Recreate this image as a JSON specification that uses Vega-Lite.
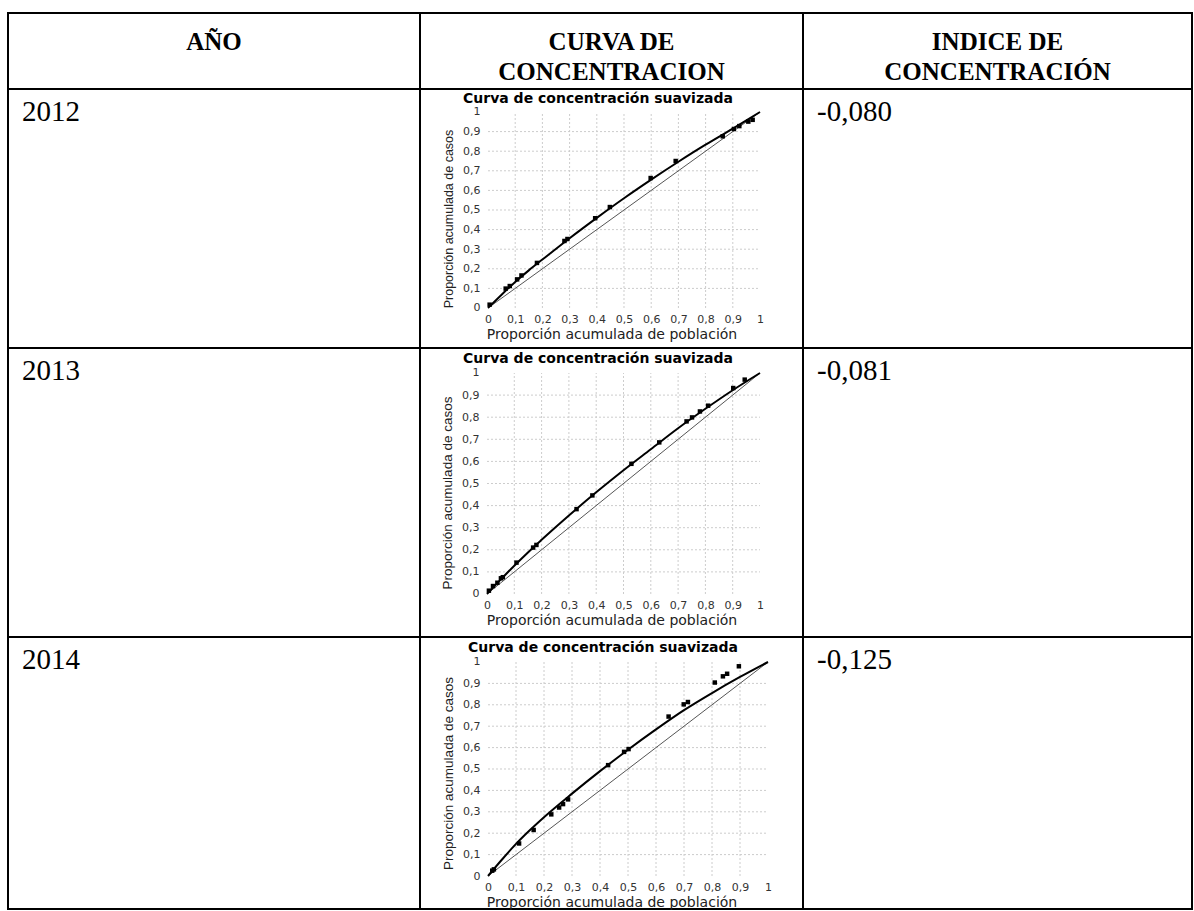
{
  "$schema": "https://vega.github.io/schema/vega-lite/v6.json",
  "background": "white",
  "padding": {"left": 7, "top": 12, "right": 0, "bottom": 0},
  "config": {
    "view": {"stroke": "black", "strokeWidth": 2},
    "axis": {"grid": false, "domain": false, "ticks": false, "labelFont": "DejaVu Sans", "labelFontSize": 11, "labelColor": "#333333", "titleFont": "DejaVu Sans", "titleFontSize": 14, "titleFontWeight": "normal", "titleColor": "#222222", "labelFlush": false, "labelOverlap": false}
  },
  "datasets": {
    "tabla": [
      {"anio": "2012", "indice": "-0,080"},
      {"anio": "2013", "indice": "-0,081"},
      {"anio": "2014", "indice": "-0,125"}
    ],
    "grid": [
      {"x": 0.1, "y": 0.1}, {"x": 0.2, "y": 0.2}, {"x": 0.3, "y": 0.3}, {"x": 0.4, "y": 0.4}, {"x": 0.5, "y": 0.5},
      {"x": 0.6, "y": 0.6}, {"x": 0.7, "y": 0.7}, {"x": 0.8, "y": 0.8}, {"x": 0.9, "y": 0.9}
    ],
    "diag": [{"x": 0, "y": 0}, {"x": 1, "y": 1}],
    "p2012": [
      {"x": 0.006, "y": 0.017}, {"x": 0.065, "y": 0.099}, {"x": 0.08, "y": 0.112}, {"x": 0.107, "y": 0.146},
      {"x": 0.123, "y": 0.166}, {"x": 0.18, "y": 0.23}, {"x": 0.281, "y": 0.342}, {"x": 0.292, "y": 0.352},
      {"x": 0.394, "y": 0.458}, {"x": 0.448, "y": 0.515}, {"x": 0.598, "y": 0.663}, {"x": 0.69, "y": 0.75},
      {"x": 0.863, "y": 0.876}, {"x": 0.904, "y": 0.913}, {"x": 0.924, "y": 0.928}, {"x": 0.957, "y": 0.951},
      {"x": 0.973, "y": 0.96}
    ],
    "c2012": [
      {"x": 0, "y": 0}, {"x": 0.05, "y": 0.068}, {"x": 0.1, "y": 0.133}, {"x": 0.15, "y": 0.192},
      {"x": 0.2, "y": 0.247}, {"x": 0.3, "y": 0.356}, {"x": 0.4, "y": 0.46}, {"x": 0.5, "y": 0.56},
      {"x": 0.6, "y": 0.655}, {"x": 0.7, "y": 0.746}, {"x": 0.8, "y": 0.833}, {"x": 0.9, "y": 0.915},
      {"x": 0.95, "y": 0.957}, {"x": 1, "y": 1}
    ],
    "p2013": [
      {"x": 0.007, "y": 0.015}, {"x": 0.022, "y": 0.036}, {"x": 0.038, "y": 0.051}, {"x": 0.051, "y": 0.071},
      {"x": 0.058, "y": 0.076}, {"x": 0.108, "y": 0.142}, {"x": 0.169, "y": 0.21}, {"x": 0.181, "y": 0.222},
      {"x": 0.328, "y": 0.384}, {"x": 0.386, "y": 0.446}, {"x": 0.529, "y": 0.589}, {"x": 0.631, "y": 0.686},
      {"x": 0.731, "y": 0.781}, {"x": 0.751, "y": 0.799}, {"x": 0.78, "y": 0.826}, {"x": 0.81, "y": 0.852},
      {"x": 0.902, "y": 0.932}, {"x": 0.944, "y": 0.97}
    ],
    "c2013": [
      {"x": 0, "y": 0}, {"x": 0.05, "y": 0.065}, {"x": 0.1, "y": 0.128}, {"x": 0.15, "y": 0.188},
      {"x": 0.2, "y": 0.245}, {"x": 0.3, "y": 0.355}, {"x": 0.4, "y": 0.46}, {"x": 0.5, "y": 0.56},
      {"x": 0.6, "y": 0.655}, {"x": 0.7, "y": 0.75}, {"x": 0.8, "y": 0.838}, {"x": 0.9, "y": 0.922},
      {"x": 1, "y": 1}
    ],
    "p2014": [
      {"x": 0.015, "y": 0.025}, {"x": 0.021, "y": 0.031}, {"x": 0.111, "y": 0.152}, {"x": 0.163, "y": 0.215},
      {"x": 0.226, "y": 0.288}, {"x": 0.254, "y": 0.32}, {"x": 0.268, "y": 0.336}, {"x": 0.286, "y": 0.358},
      {"x": 0.429, "y": 0.518}, {"x": 0.486, "y": 0.58}, {"x": 0.502, "y": 0.593}, {"x": 0.645, "y": 0.745},
      {"x": 0.699, "y": 0.802}, {"x": 0.714, "y": 0.813}, {"x": 0.81, "y": 0.904}, {"x": 0.839, "y": 0.933},
      {"x": 0.854, "y": 0.945}, {"x": 0.896, "y": 0.98}
    ],
    "c2014": [
      {"x": 0, "y": 0}, {"x": 0.05, "y": 0.077}, {"x": 0.1, "y": 0.15}, {"x": 0.15, "y": 0.215},
      {"x": 0.2, "y": 0.275}, {"x": 0.3, "y": 0.385}, {"x": 0.4, "y": 0.49}, {"x": 0.5, "y": 0.59},
      {"x": 0.6, "y": 0.685}, {"x": 0.7, "y": 0.775}, {"x": 0.8, "y": 0.855}, {"x": 0.9, "y": 0.93},
      {"x": 1, "y": 1}
    ]
  },
  "columns": 3,
  "spacing": 0,
  "bounds": "flush",
  "align": "each",
  "concat": [
    {
      "width": 412, "height": 76,
      "data": {"values": [{"h": "AÑO"}]},
      "mark": {"type": "text", "font": "Liberation Serif", "fontSize": 25, "fontWeight": "bold", "align": "center", "baseline": "middle", "dy": 29, "color": "black"},
      "encoding": {
        "text": {"field": "h"},
        "x": {"datum": 0.5, "type": "quantitative", "scale": {"domain": [0, 1]}, "axis": null},
        "y": {"datum": 1, "type": "quantitative", "scale": {"domain": [0, 1]}, "axis": null}
      }
    },
    {
      "width": 383, "height": 76,
      "data": {"values": [{"h": "CURVA DE\nCONCENTRACION"}]},
      "mark": {"type": "text", "font": "Liberation Serif", "fontSize": 25, "fontWeight": "bold", "align": "center", "baseline": "middle", "lineBreak": "\n", "lineHeight": 30, "dy": 29, "color": "black"},
      "encoding": {
        "text": {"field": "h"},
        "x": {"datum": 0.5, "type": "quantitative", "scale": {"domain": [0, 1]}, "axis": null},
        "y": {"datum": 1, "type": "quantitative", "scale": {"domain": [0, 1]}, "axis": null}
      }
    },
    {
      "width": 389, "height": 76,
      "data": {"values": [{"h": "INDICE DE\nCONCENTRACIÓN"}]},
      "mark": {"type": "text", "font": "Liberation Serif", "fontSize": 25, "fontWeight": "bold", "align": "center", "baseline": "middle", "lineBreak": "\n", "lineHeight": 30, "dy": 29, "color": "black"},
      "encoding": {
        "text": {"field": "h"},
        "x": {"datum": 0.5, "type": "quantitative", "scale": {"domain": [0, 1]}, "axis": null},
        "y": {"datum": 1, "type": "quantitative", "scale": {"domain": [0, 1]}, "axis": null}
      }
    },
    {
      "width": 412, "height": 259,
      "data": {"name": "tabla"},
      "transform": [{"filter": "datum.anio == '2012'"}],
      "mark": {"type": "text", "font": "Liberation Serif", "fontSize": 29, "align": "left", "baseline": "middle", "dx": 14, "dy": 23, "color": "black"},
      "encoding": {
        "text": {"field": "anio"},
        "x": {"datum": 0, "type": "quantitative", "scale": {"domain": [0, 1]}, "axis": null},
        "y": {"datum": 1, "type": "quantitative", "scale": {"domain": [0, 1]}, "axis": null}
      }
    },
    {
      "width": 383, "height": 259,
      "title": {"text": "Curva de concentración suavizada", "font": "DejaVu Sans", "fontSize": 14, "fontWeight": "bold", "color": "black", "anchor": "middle", "frame": "group", "baseline": "middle", "offset": -24, "dx": -13.5},
      "encoding": {
        "x": {"field": "x", "type": "quantitative", "scale": {"domain": [-0.25, 1.1581], "nice": false, "zero": false},
              "axis": {"values": [0, 0.1, 0.2, 0.3, 0.4, 0.5, 0.6, 0.7, 0.8, 0.9, 1], "labelExpr": "replace(format(datum.value, '.1~f'), '.', ',')", "title": "Proporción acumulada de población", "offset": -40, "labelPadding": 5, "titlePadding": 3}},
        "y": {"field": "y", "type": "quantitative", "scale": {"domain": [-0.2041, 1.1173], "nice": false, "zero": false},
              "axis": {"values": [0, 0.1, 0.2, 0.3, 0.4, 0.5, 0.6, 0.7, 0.8, 0.9, 1], "labelExpr": "replace(format(datum.value, '.1~f'), '.', ',')", "title": "Proporción acumulada de casos", "titleFont": "Liberation Sans", "titleFontSize": 12.5, "offset": -68, "labelPadding": 8, "titlePadding": 7}}
      },
      "layer": [
        {"data": {"name": "grid"}, "mark": {"type": "rule", "color": "#cccccc", "strokeDash": [2, 2], "strokeWidth": 1},
         "encoding": {"y": {"datum": 0, "type": "quantitative"}, "y2": {"datum": 1}}},
        {"data": {"name": "grid"}, "mark": {"type": "rule", "color": "#cccccc", "strokeDash": [2, 2], "strokeWidth": 1},
         "encoding": {"x": {"datum": 0, "type": "quantitative"}, "x2": {"datum": 1}}},
        {"data": {"values": [{}]}, "mark": {"type": "rect", "fill": "transparent", "stroke": "#aaaaaa", "strokeWidth": 1},
         "encoding": {"x": {"datum": 0, "type": "quantitative"}, "x2": {"datum": 1}, "y": {"datum": 0, "type": "quantitative"}, "y2": {"datum": 1}}},
        {"data": {"name": "diag"}, "mark": {"type": "line", "color": "#555555", "strokeWidth": 1}, "encoding": {}},
        {"data": {"name": "c2012"}, "mark": {"type": "line", "color": "black", "strokeWidth": 2, "interpolate": "monotone"}, "encoding": {}},
        {"data": {"name": "p2012"}, "mark": {"type": "point", "shape": "square", "filled": true, "color": "black", "size": 20, "opacity": 1}, "encoding": {}}
      ]
    },
    {
      "width": 389, "height": 259,
      "data": {"name": "tabla"},
      "transform": [{"filter": "datum.anio == '2012'"}],
      "mark": {"type": "text", "font": "Liberation Serif", "fontSize": 29, "align": "left", "baseline": "middle", "dx": 14, "dy": 23, "color": "black"},
      "encoding": {
        "text": {"field": "indice"},
        "x": {"datum": 0, "type": "quantitative", "scale": {"domain": [0, 1]}, "axis": null},
        "y": {"datum": 1, "type": "quantitative", "scale": {"domain": [0, 1]}, "axis": null}
      }
    },
    {
      "width": 412, "height": 289,
      "data": {"name": "tabla"},
      "transform": [{"filter": "datum.anio == '2013'"}],
      "mark": {"type": "text", "font": "Liberation Serif", "fontSize": 29, "align": "left", "baseline": "middle", "dx": 14, "dy": 23, "color": "black"},
      "encoding": {
        "text": {"field": "anio"},
        "x": {"datum": 0, "type": "quantitative", "scale": {"domain": [0, 1]}, "axis": null},
        "y": {"datum": 1, "type": "quantitative", "scale": {"domain": [0, 1]}, "axis": null}
      }
    },
    {
      "width": 383, "height": 289,
      "title": {"text": "Curva de concentración suavizada", "font": "DejaVu Sans", "fontSize": 14, "fontWeight": "bold", "color": "black", "anchor": "middle", "frame": "group", "baseline": "middle", "offset": -25, "dx": -13.5},
      "encoding": {
        "x": {"field": "x", "type": "quantitative", "scale": {"domain": [-0.2454, 1.1575], "nice": false, "zero": false},
              "axis": {"values": [0, 0.1, 0.2, 0.3, 0.4, 0.5, 0.6, 0.7, 0.8, 0.9, 1], "labelExpr": "replace(format(datum.value, '.1~f'), '.', ',')", "title": "Proporción acumulada de población", "offset": -43, "labelPadding": 5, "titlePadding": 3}},
        "y": {"field": "y", "type": "quantitative", "scale": {"domain": [-0.1946, 1.1131], "nice": false, "zero": false},
              "axis": {"values": [0, 0.1, 0.2, 0.3, 0.4, 0.5, 0.6, 0.7, 0.8, 0.9, 1], "labelExpr": "replace(format(datum.value, '.1~f'), '.', ',')", "title": "Proporción acumulada de casos", "titleFont": "Liberation Sans", "titleFontSize": 13.5, "offset": -67, "labelPadding": 8, "titlePadding": 7}}
      },
      "layer": [
        {"data": {"name": "grid"}, "mark": {"type": "rule", "color": "#cccccc", "strokeDash": [2, 2], "strokeWidth": 1},
         "encoding": {"y": {"datum": 0, "type": "quantitative"}, "y2": {"datum": 1}}},
        {"data": {"name": "grid"}, "mark": {"type": "rule", "color": "#cccccc", "strokeDash": [2, 2], "strokeWidth": 1},
         "encoding": {"x": {"datum": 0, "type": "quantitative"}, "x2": {"datum": 1}}},
        {"data": {"values": [{}]}, "mark": {"type": "rect", "fill": "transparent", "stroke": "#aaaaaa", "strokeWidth": 1},
         "encoding": {"x": {"datum": 0, "type": "quantitative"}, "x2": {"datum": 1}, "y": {"datum": 0, "type": "quantitative"}, "y2": {"datum": 1}}},
        {"data": {"name": "diag"}, "mark": {"type": "line", "color": "#555555", "strokeWidth": 1}, "encoding": {}},
        {"data": {"name": "c2013"}, "mark": {"type": "line", "color": "black", "strokeWidth": 2, "interpolate": "monotone"}, "encoding": {}},
        {"data": {"name": "p2013"}, "mark": {"type": "point", "shape": "square", "filled": true, "color": "black", "size": 20, "opacity": 1}, "encoding": {}}
      ]
    },
    {
      "width": 389, "height": 289,
      "data": {"name": "tabla"},
      "transform": [{"filter": "datum.anio == '2013'"}],
      "mark": {"type": "text", "font": "Liberation Serif", "fontSize": 29, "align": "left", "baseline": "middle", "dx": 14, "dy": 23, "color": "black"},
      "encoding": {
        "text": {"field": "indice"},
        "x": {"datum": 0, "type": "quantitative", "scale": {"domain": [0, 1]}, "axis": null},
        "y": {"datum": 1, "type": "quantitative", "scale": {"domain": [0, 1]}, "axis": null}
      }
    },
    {
      "width": 412, "height": 272,
      "data": {"name": "tabla"},
      "transform": [{"filter": "datum.anio == '2014'"}],
      "mark": {"type": "text", "font": "Liberation Serif", "fontSize": 29, "align": "left", "baseline": "middle", "dx": 14, "dy": 23, "color": "black"},
      "encoding": {
        "text": {"field": "anio"},
        "x": {"datum": 0, "type": "quantitative", "scale": {"domain": [0, 1]}, "axis": null},
        "y": {"datum": 1, "type": "quantitative", "scale": {"domain": [0, 1]}, "axis": null}
      }
    },
    {
      "width": 383, "height": 272,
      "title": {"text": "Curva de concentración suavizada", "font": "DejaVu Sans", "fontSize": 14, "fontWeight": "bold", "color": "black", "anchor": "middle", "frame": "group", "baseline": "middle", "offset": -25, "dx": -8.5},
      "encoding": {
        "x": {"field": "x", "type": "quantitative", "scale": {"domain": [-0.2429, 1.125], "nice": false, "zero": false},
              "axis": {"values": [0, 0.1, 0.2, 0.3, 0.4, 0.5, 0.6, 0.7, 0.8, 0.9, 1], "labelExpr": "replace(format(datum.value, '.1~f'), '.', ',')", "title": "Proporción acumulada de población", "offset": -33, "labelPadding": 5, "titlePadding": 3}},
        "y": {"field": "y", "type": "quantitative", "scale": {"domain": [-0.1542, 1.1168], "nice": false, "zero": false},
              "axis": {"values": [0, 0.1, 0.2, 0.3, 0.4, 0.5, 0.6, 0.7, 0.8, 0.9, 1], "labelExpr": "replace(format(datum.value, '.1~f'), '.', ',')", "title": "Proporción acumulada de casos", "titleFont": "Liberation Sans", "titleFontSize": 13.5, "offset": -68, "labelPadding": 8, "titlePadding": 7}}
      },
      "layer": [
        {"data": {"name": "grid"}, "mark": {"type": "rule", "color": "#cccccc", "strokeDash": [2, 2], "strokeWidth": 1},
         "encoding": {"y": {"datum": 0, "type": "quantitative"}, "y2": {"datum": 1}}},
        {"data": {"name": "grid"}, "mark": {"type": "rule", "color": "#cccccc", "strokeDash": [2, 2], "strokeWidth": 1},
         "encoding": {"x": {"datum": 0, "type": "quantitative"}, "x2": {"datum": 1}}},
        {"data": {"values": [{}]}, "mark": {"type": "rect", "fill": "transparent", "stroke": "#aaaaaa", "strokeWidth": 1},
         "encoding": {"x": {"datum": 0, "type": "quantitative"}, "x2": {"datum": 1}, "y": {"datum": 0, "type": "quantitative"}, "y2": {"datum": 1}}},
        {"data": {"name": "diag"}, "mark": {"type": "line", "color": "#555555", "strokeWidth": 1}, "encoding": {}},
        {"data": {"name": "c2014"}, "mark": {"type": "line", "color": "black", "strokeWidth": 2, "interpolate": "monotone"}, "encoding": {}},
        {"data": {"name": "p2014"}, "mark": {"type": "point", "shape": "square", "filled": true, "color": "black", "size": 20, "opacity": 1}, "encoding": {}}
      ]
    },
    {
      "width": 389, "height": 272,
      "data": {"name": "tabla"},
      "transform": [{"filter": "datum.anio == '2014'"}],
      "mark": {"type": "text", "font": "Liberation Serif", "fontSize": 29, "align": "left", "baseline": "middle", "dx": 14, "dy": 23, "color": "black"},
      "encoding": {
        "text": {"field": "indice"},
        "x": {"datum": 0, "type": "quantitative", "scale": {"domain": [0, 1]}, "axis": null},
        "y": {"datum": 1, "type": "quantitative", "scale": {"domain": [0, 1]}, "axis": null}
      }
    }
  ]
}
